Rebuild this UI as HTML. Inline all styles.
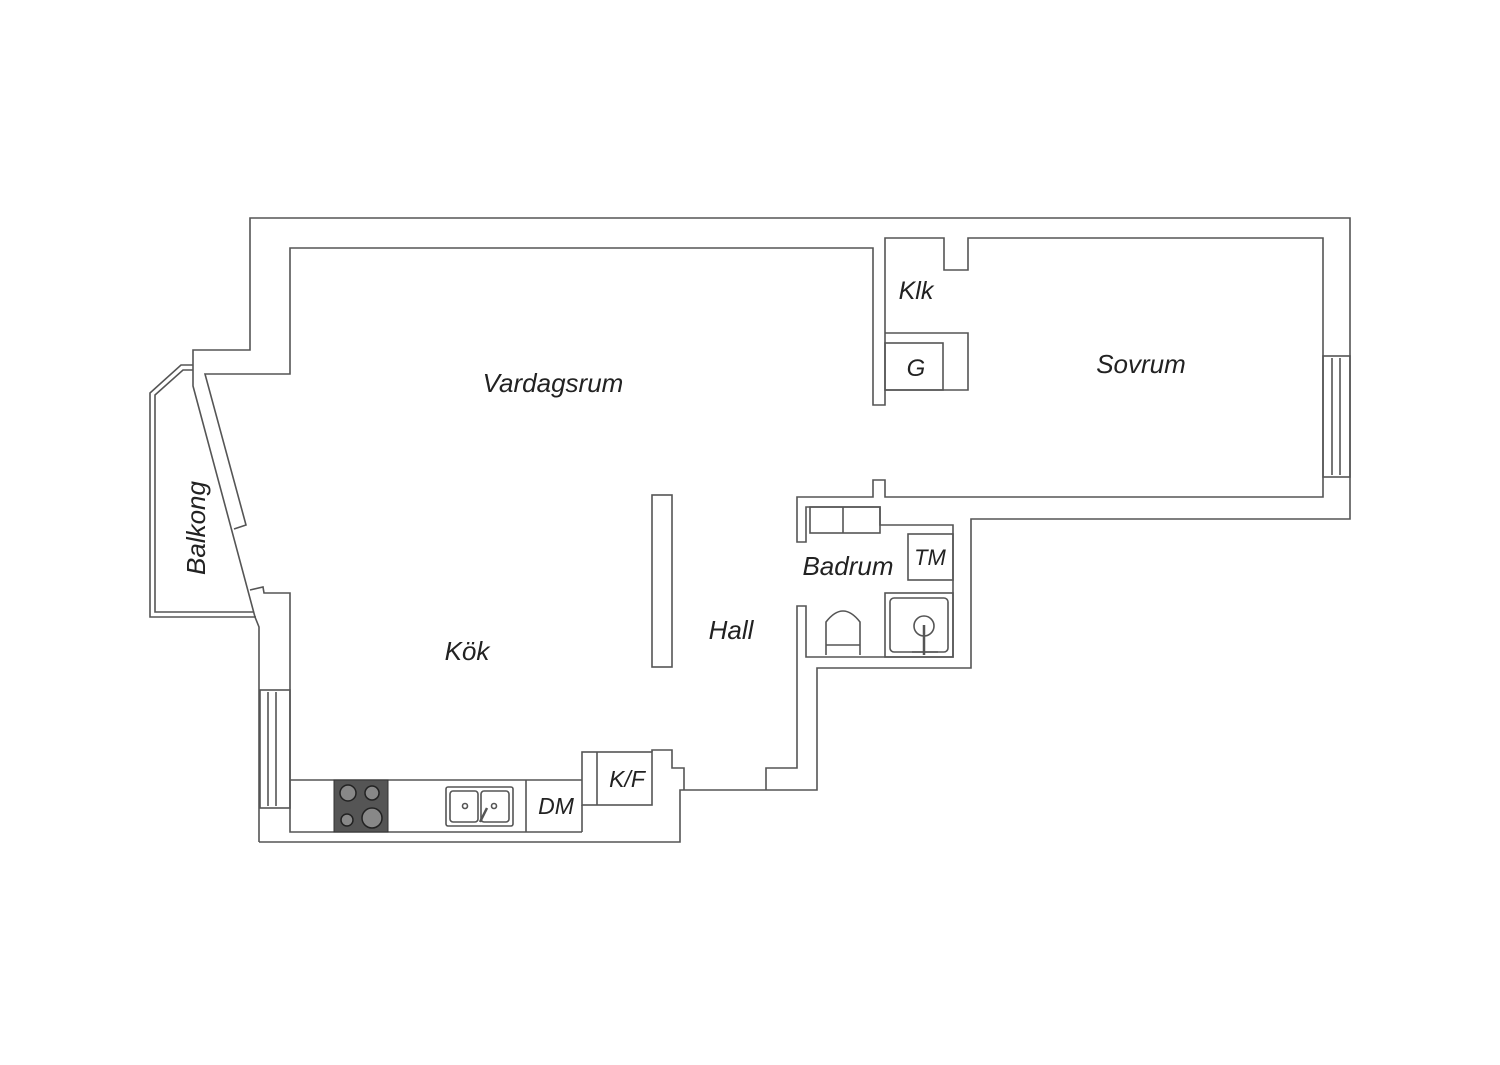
<!DOCTYPE html>
<html><head><meta charset="utf-8"><style>
html,body{margin:0;padding:0;background:#fff;}
svg text{font-family:"Liberation Sans",sans-serif;font-style:italic;fill:#222;}
</style></head><body>
<svg width="1500" height="1060" viewBox="0 0 1500 1060" xmlns="http://www.w3.org/2000/svg">
<g fill="none" stroke="#555" stroke-width="1.6">
<!-- outer -->
<polyline points="259,842 259,627 255,617 193,386 193,350 250,350 250,218 1350,218 1350,519 971,519 971,668 817,668 817,790 766,790"/>
<polyline points="259,842 680,842 680,790 766,790"/>
<polyline points="684,790 684,768 672,768 672,750 652,750 652,752"/>
<!-- inner main -->
<polyline points="234,529 246,525 205,374 290,374 290,248 873,248 873,405 885,405 885,238 944,238 944,270 968,270 968,238 1323,238 1323,497 885,497 885,480 873,480 873,497 797,497 797,542 806,542 806,507 880,507 880,525 953,525 953,657 806,657 806,606 797,606 797,768 766,768 766,790"/>
<polyline points="250,590 263,587 264,593 290,593 290,832 582,832"/>
<!-- balcony -->
<polyline points="193,365 181,365 150,393 150,617 256,617"/>
<polyline points="193,370 183,370 155,395 155,612 254,612"/>
<!-- kitchen windows -->
<rect x="260" y="690" width="30" height="118"/>
<line x1="268" y1="692" x2="268" y2="806"/><line x1="276" y1="692" x2="276" y2="806"/>
<!-- sovrum window -->
<rect x="1323" y="356" width="27" height="121"/>
<line x1="1332" y1="358" x2="1332" y2="475"/><line x1="1340" y1="358" x2="1340" y2="475"/>
<!-- Klk / G -->
<polyline points="885,333 968,333 968,390 885,390"/>
<rect x="885" y="343" width="58" height="47"/>
<!-- column -->
<rect x="652" y="495" width="20" height="172"/>
<!-- kitchen counter -->
<line x1="290" y1="780" x2="582" y2="780"/>
<line x1="526" y1="780" x2="526" y2="832"/>
<rect x="582" y="752" width="70" height="53"/>
<line x1="597" y1="752" x2="597" y2="805"/>
<line x1="582" y1="805" x2="582" y2="832"/>
<rect x="446" y="787" width="67" height="39" rx="2"/>
<rect x="450" y="791" width="28" height="31" rx="3"/>
<rect x="481" y="791" width="28" height="31" rx="3"/>
<circle cx="465" cy="806" r="2.5"/><circle cx="494" cy="806" r="2.5"/>
<line x1="480" y1="822" x2="487" y2="808" stroke-width="2.5"/>
<!-- bathroom -->
<rect x="810" y="507" width="70" height="26"/>
<line x1="843" y1="507" x2="843" y2="533"/>
<rect x="908" y="534" width="45" height="46"/>
<rect x="885" y="593" width="68" height="64"/>
<rect x="890" y="598" width="58" height="54" rx="4"/>
<circle cx="924" cy="626" r="10"/>
<line x1="924" y1="625" x2="924" y2="655" stroke-width="2.5"/>
<line x1="912" y1="652" x2="938" y2="652"/>
<path d="M826,655 L826,622 Q843,600 860,622 L860,655"/>
<line x1="826" y1="645" x2="860" y2="645"/>
</g>
<!-- hob -->
<rect x="334" y="780" width="54" height="52" fill="#555" stroke="#333"/>
<g fill="#888" stroke="#222" stroke-width="1.5">
<circle cx="348" cy="793" r="8"/><circle cx="372" cy="793" r="7"/>
<circle cx="347" cy="820" r="6"/><circle cx="372" cy="818" r="10"/>
</g>
<text x="553" y="392" font-size="26" text-anchor="middle">Vardagsrum</text>
<text x="1141" y="373" font-size="26" text-anchor="middle">Sovrum</text>
<text x="916" y="299" font-size="25" text-anchor="middle">Klk</text>
<text x="916" y="376" font-size="24" text-anchor="middle">G</text>
<text x="467" y="660" font-size="26" text-anchor="middle">Kök</text>
<text x="731" y="639" font-size="26" text-anchor="middle">Hall</text>
<text x="848" y="575" font-size="26" text-anchor="middle">Badrum</text>
<text x="930" y="565" font-size="22" text-anchor="middle">TM</text>
<text x="556" y="814" font-size="23" text-anchor="middle">DM</text>
<text x="627" y="787" font-size="23" text-anchor="middle">K/F</text>
<text x="0" y="0" font-size="26" text-anchor="middle" transform="translate(205,528) rotate(-90)">Balkong</text>
</svg>
</body></html>
